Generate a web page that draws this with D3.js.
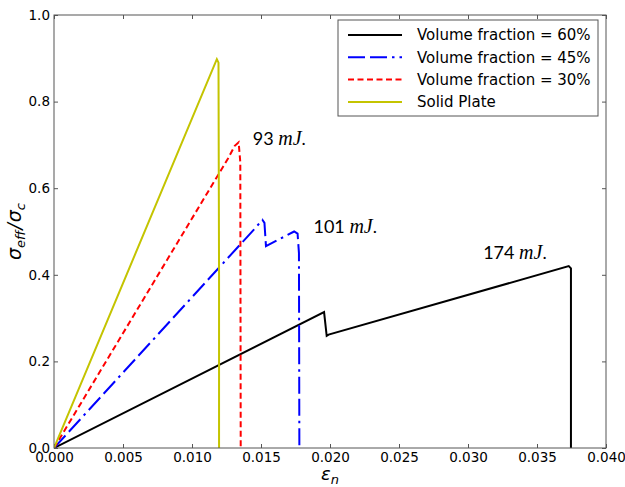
<!DOCTYPE html>
<html>
<head>
<meta charset="utf-8">
<script src="https://cdn.jsdelivr.net/npm/d3@7"></script>
<style>
  body { margin: 0; background: #fff; }
  svg { display: block; }
  .axis text { font-family: "DejaVu Sans", sans-serif; font-size: 13.5px; fill: #000; }
  .axis line { stroke: #555; }
</style>
</head>
<body>
<div id="vis"></div>
<script>
const WIDTH = 625;
const HEIGHT = 487;
const MARGINS = {left: 54, right: 19, top: 15, bottom: 39};

// series (strain, normalised stress)
const vf60_x = [0, 0.01957, 0.01976, 0.0199, 0.0373, 0.03746, 0.03746];
const vf60_y = [0, 0.314, 0.259, 0.262, 0.420, 0.415, 0];
const vf45_x = [0, 0.0145, 0.0151, 0.01525, 0.01536, 0.0168, 0.0174, 0.01765, 0.01775, 0.01778];
const vf45_y = [0, 0.505, 0.527, 0.52, 0.466, 0.49, 0.50, 0.495, 0.45, 0];
const vf30_x = [0, 0.0126, 0.0131, 0.01338, 0.01350, 0.01353];
const vf30_y = [0, 0.668, 0.698, 0.706, 0.66, 0];
const solid_x = [0, 0.0118, 0.01192, 0.01196, 0.01196];
const solid_y = [0, 0.898, 0.89, 0.4, 0];

const seriesNames = ["Volume fraction = 60%", "Volume fraction = 45%", "Volume fraction = 30%", "Solid Plate"];
const xTicks = [0, 0.005, 0.010, 0.015, 0.020, 0.025, 0.030, 0.035, 0.040];
const yTicks = [0, 0.2, 0.4, 0.6, 0.8, 1.0];

const notes = ["93", "101", "174"];
const noteAt = [[0.0144, 0.70], [0.0188, 0.497], [0.0311, 0.437]];

const W = WIDTH - MARGINS.left - MARGINS.right;
const H = HEIGHT - MARGINS.top - MARGINS.bottom;

const series = [
  {name: seriesNames[0], xs: vf60_x, ys: vf60_y, color: "#000000", dash: null},
  {name: seriesNames[1], xs: vf45_x, ys: vf45_y, color: "#0000ff", dash: "17,5,17,5,2.5,5"},
  {name: seriesNames[2], xs: vf30_x, ys: vf30_y, color: "#ff0000", dash: "6,3.5"},
  {name: seriesNames[3], xs: solid_x, ys: solid_y, color: "#c4c400", dash: null}
];

const svg = d3.select("#vis").append("svg")
  .attr("width", WIDTH)
  .attr("height", HEIGHT);

const g = svg.append("g")
  .attr("transform", "translate(" + MARGINS.left + "," + MARGINS.top + ")");

const x = d3.scaleLinear().domain([0, 0.04]).range([0, W]);
const y = d3.scaleLinear().domain([0, 1.0]).range([H, 0]);

// axes, ticks pointing inward
g.append("g").attr("class", "axis")
  .attr("transform", "translate(0," + H + ")")
  .call(d3.axisBottom(x).tickValues(xTicks).tickFormat(d3.format(".3f")).tickSize(-4).tickPadding(4))
  .call(a => a.select(".domain").remove());
g.append("g").attr("class", "axis")
  .call(d3.axisTop(x).tickValues(xTicks).tickFormat("").tickSize(-4))
  .call(a => a.select(".domain").remove());
g.append("g").attr("class", "axis")
  .call(d3.axisLeft(y).tickValues(yTicks).tickFormat(d3.format(".1f")).tickSize(-4).tickPadding(4))
  .call(a => a.select(".domain").remove());
g.append("g").attr("class", "axis")
  .attr("transform", "translate(" + W + ",0)")
  .call(d3.axisRight(y).tickValues(yTicks).tickFormat("").tickSize(-4))
  .call(a => a.select(".domain").remove());

g.selectAll(".axis text").style("font-size", "13.5px");

svg.append("clipPath").attr("id", "clip")
  .append("rect").attr("width", W).attr("height", H);

const line = d3.line().x(d => x(d[0])).y(d => y(d[1]));

g.append("g").attr("clip-path", "url(#clip)")
  .selectAll("path")
  .data(series)
  .enter()
  .append("path")
    .attr("d", s => line(s.xs.map((v, i) => [v, s.ys[i]])))
    .attr("fill", "none")
    .attr("stroke", s => s.color)
    .attr("stroke-width", 2)
    .attr("stroke-dasharray", s => s.dash);

// frame
g.append("rect")
  .attr("width", W).attr("height", H)
  .attr("fill", "none").attr("stroke", "#555").attr("stroke-width", 1);

// energy notes
const nt = g.selectAll(".note").data(notes).enter()
  .append("text")
    .attr("class", "note")
    .attr("x", (d, i) => x(noteAt[i][0]))
    .attr("y", (d, i) => y(noteAt[i][1]))
    .style("font-family", "Lato, sans-serif")
    .style("font-size", "18px");
nt.append("tspan").text(d => d + " ");
nt.append("tspan").text("mJ")
  .style("font-family", "'Liberation Serif', serif")
  .style("font-style", "italic")
  .style("font-size", "20px");
nt.append("tspan").text(".");

// legend
const lg = g.append("g").attr("transform", "translate(" + (338 - MARGINS.left) + "," + (20 - MARGINS.top) + ")");
lg.append("rect")
  .attr("width", 260).attr("height", 96)
  .attr("fill", "#fff").attr("stroke", "#555").attr("stroke-width", 1);
const items = lg.selectAll(".item").data(series).enter()
  .append("g")
    .attr("transform", (d, i) => "translate(0," + (15 + i * 22.3) + ")");
items.append("line")
  .attr("x1", 10).attr("x2", 64)
  .attr("stroke", d => d.color)
  .attr("stroke-width", 2)
  .attr("stroke-dasharray", d => d.dash);
items.append("text")
  .attr("x", 79).attr("dy", "0.36em")
  .style("font-family", "'DejaVu Sans', sans-serif")
  .style("font-size", "15px")
  .text(d => d.name);

// axis labels
const xl = svg.append("text")
  .attr("x", MARGINS.left + W / 2).attr("y", 480)
  .attr("text-anchor", "middle")
  .style("font-family", "'DejaVu Sans', sans-serif")
  .style("font-size", "18px");
xl.append("tspan").text("ε").style("font-style", "italic");
xl.append("tspan").text("n").attr("dy", 4).style("font-size", "13px").style("font-style", "italic");

const yl = svg.append("text")
  .attr("transform", "translate(21," + (MARGINS.top + H / 2) + ") rotate(-90)")
  .attr("text-anchor", "middle")
  .style("font-family", "'DejaVu Sans', sans-serif")
  .style("font-size", "19px")
  .style("font-style", "italic");
yl.append("tspan").text("σ");
yl.append("tspan").text("eff").attr("dy", 4).style("font-size", "13px");
yl.append("tspan").text("/").attr("dy", -4).attr("dx", 1);
yl.append("tspan").text("σ").attr("dx", 1);
yl.append("tspan").text("c").attr("dy", 4).style("font-size", "13px");
</script>
</body>
</html>
